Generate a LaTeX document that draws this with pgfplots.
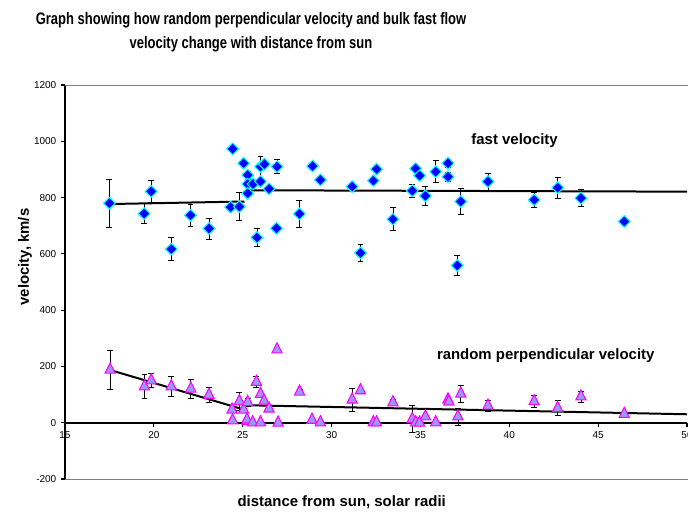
\documentclass[border=0pt]{standalone}
\usepackage{fontspec}
\setmainfont{Liberation Sans}
\newfontfamily\titlefont[FakeStretch=0.78]{Liberation Sans}
\usepackage{pgfplots}
\pgfplotsset{compat=1.18}
\usepackage{pgfplotstable}

\definecolor{fastfill}{RGB}{0,0,255}
\definecolor{fastedge}{RGB}{0,255,255}
\definecolor{randfill}{RGB}{153,153,255}
\definecolor{randedge}{RGB}{255,0,255}
\definecolor{framegray}{RGB}{128,128,128}

% bulk fast flow velocity (km/s) with its uncertainty
\pgfplotstableread{
x      y    err
17.50  780  84
19.45  743  35
19.85  822  38
20.98  617  40
22.06  737  40
23.10  690  37
24.43  973  0
24.32  766  0
24.81  768  50
25.05  922  0
25.28  880  15
25.28  848  0
25.28  815  0
25.58  848  0
26.00  910  38
26.00  857  0
26.22  919  0
26.48  831  0
25.80  658  33
26.93  910  25
26.90  691  10
28.19  742  49
28.93  912  0
29.37  863  10
31.16  839  0
31.63  603  30
32.35  860  0
32.53  901  0
33.45  723  41
34.54  824  24
34.73  903  0
34.95  878  0
35.28  806  35
35.86  892  39
36.55  922  15
36.55  874  15
37.27  786  46
37.07  559  35
38.80  857  30
41.40  792  28
42.72  835  36
44.03  798  30
46.47  715  0
}\fastdata

% random perpendicular velocity (km/s) with its uncertainty
\pgfplotstableread{
x      y    err
17.54  188  68
19.47  129  43
19.85  150  24
20.98  129  35
22.08  121  34
23.10   99  28
24.43    8  0
24.40   46  0
24.81   76  32
25.05   46  0
25.28   73  15
25.24    5  0
25.24   11  0
25.56    1  0
25.77  145  20
26.00  102  0
26.20   78  0
26.48   50  0
26.00    1  0
26.93  260  5
26.99    0  0
28.20  110  8
28.90   10  0
29.37    1  0
31.16   82  41
31.63  115  12
32.35    1  0
32.53    1  0
33.45   72  10
34.54   13  47
34.73    1  0
34.95    0  0
35.28   22  0
35.86    1  0
36.55   82  0
36.60   75  0
37.27  103  29
37.11   22  30
38.80   60  18
41.40   76  21
42.72   52  26
44.03   93  20
46.47   31  0
}\randdata

\begin{document}
\begin{tikzpicture}
\begin{axis}[
  at={(0pt,0pt)}, anchor=south west,
  scale only axis,
  width=466.5pt, height=295.5pt,
  xmin=15, xmax=50, ymin=-200, ymax=1200,
  axis x line*=middle, axis y line*=left,
  hide obscured x ticks=false, hide obscured y ticks=false,
  axis line style={black, line width=1.3pt},
  xtick={15,20,...,50}, ytick={-200,0,...,1200},
  tick align=outside, major tick length=3pt,
  tick style={black, line width=0.8pt},
  ticklabel style={font=\fontsize{7.5}{9}\selectfont},
  /pgf/number format/assume math mode=true,
  /pgf/number format/1000 sep={},
  clip=false,
]
  % plot-area frame, top and bottom edges
  \draw[framegray, line width=0.6pt] (axis cs:15,1200) -- (axis cs:52,1200);
  \draw[framegray, line width=0.6pt] (axis cs:15,-200) -- (axis cs:52,-200);

  % trend lines
  \addplot[black, line width=1.5pt, no marks] coordinates {(17.5,777) (25.1,786)};
  \addplot[black, line width=1.5pt, no marks] coordinates {(25.3,826) (50,821)};
  \addplot[black, line width=1.5pt, no marks] coordinates {(17.5,188) (25.1,46)};
  \addplot[black, line width=1.5pt, no marks] coordinates {(25.3,62) (50,30)};

  % fast velocity
  \addplot[only marks, mark=square*,
    mark options={rotate=45, fill=fastfill, draw=fastedge, line width=0.8pt},
    mark size=3.1pt,
    error bars/.cd, y dir=both, y explicit,
    error bar style={black, line width=0.5pt},
    error mark options={rotate=90, black, mark size=2.2pt, line width=0.5pt}]
    table[x=x, y=y, y error=err]{\fastdata};

  % random perpendicular velocity
  \addplot[only marks, mark=triangle*,
    mark options={fill=randfill, draw=randedge, line width=0.8pt, yscale=1.15},
    mark size=4.4pt,
    error bars/.cd, y dir=both, y explicit,
    error bar style={black, line width=0.5pt},
    error mark options={rotate=90, black, mark size=2.2pt, line width=0.5pt}]
    table[x=x, y=y, y error=err]{\randdata};

  \node[font=\bfseries\fontsize{11.2}{13}\selectfont] at (axis cs:40.3,1001) {fast velocity};
  \node[font=\bfseries\fontsize{11.2}{13}\selectfont] at (axis cs:42.05,238) {random perpendicular velocity};
\end{axis}

% titles and axis labels
\node[align=center, font=\titlefont\bfseries\fontsize{12.5}{18}\selectfont] at (139.5pt,335.25pt)
  {Graph showing how random perpendicular velocity and bulk fast flow\\velocity change with distance from sun};
\node[rotate=90, font=\bfseries\fontsize{11.2}{13}\selectfont] at (-30pt,166.5pt) {velocity, km/s};
\node[font=\bfseries\fontsize{11.2}{13}\selectfont] at (207.5pt,-17.25pt) {distance from sun, solar radii};

\pgfresetboundingbox
\path[use as bounding box] (-48.75pt,-24pt) rectangle (467.25pt,359.25pt);
\end{tikzpicture}
\end{document}
